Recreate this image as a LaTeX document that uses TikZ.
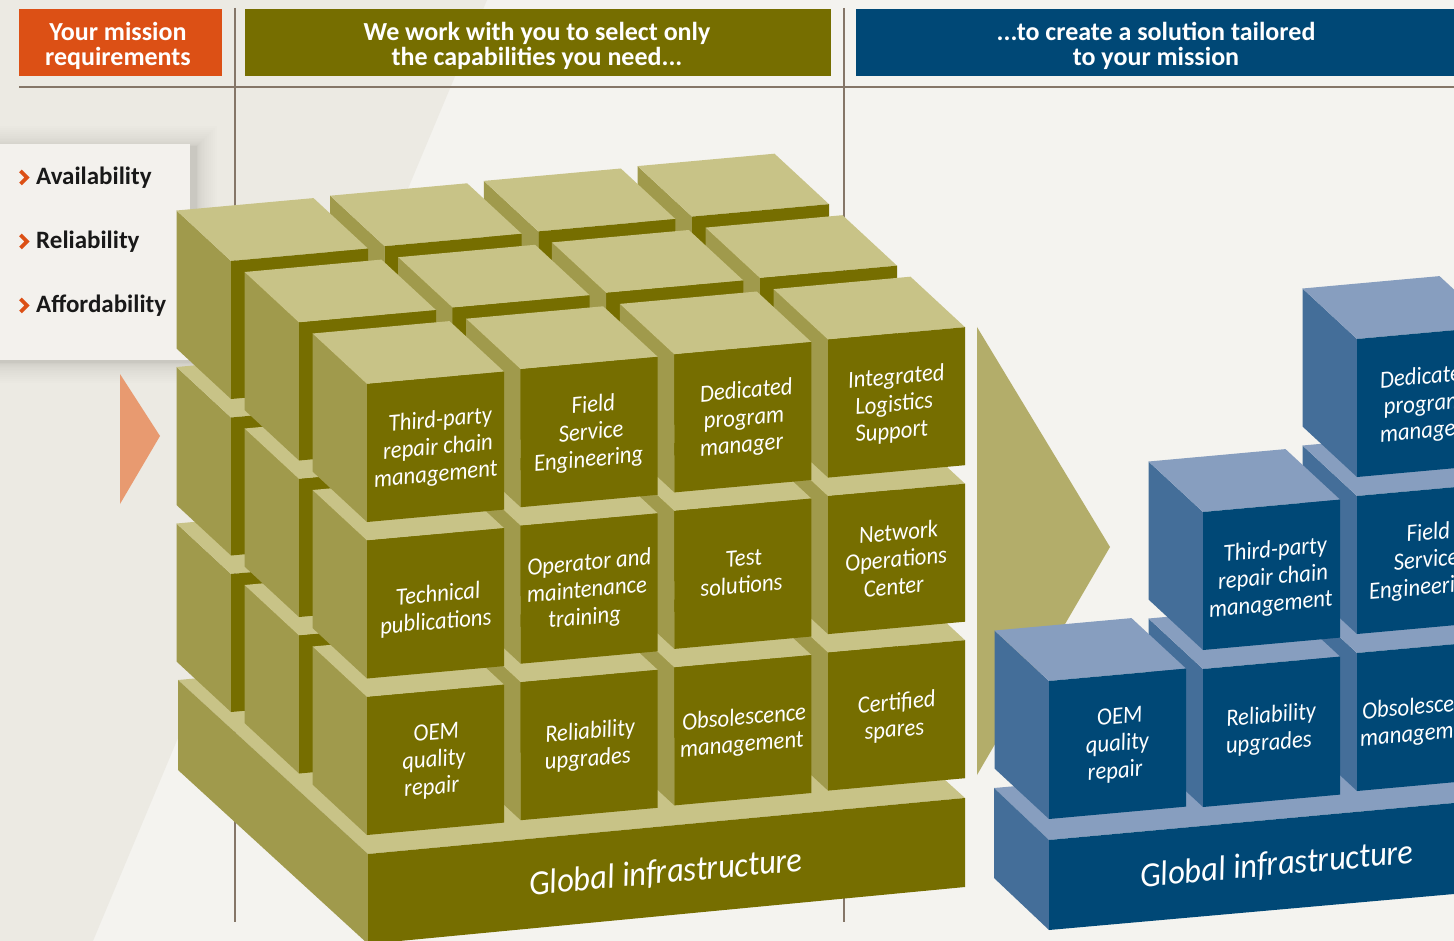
\documentclass[tikz,border=0pt]{standalone}
\usepackage{fontspec}
\setmainfont{Carlito}
\newfontfamily\cellfont[FakeStretch=0.93]{Carlito}
\usetikzlibrary{calc}
\definecolor{pagebg}{HTML}{F4F3EF}
\definecolor{darkbg}{HTML}{ECEAE3}
\definecolor{panelbg}{HTML}{F3F1ED}
\definecolor{rulec}{HTML}{857668}
\definecolor{orangec}{HTML}{DC5015}
\definecolor{olivefront}{HTML}{766E00}
\definecolor{oliveleft}{HTML}{A09A4C}
\definecolor{olivetop}{HTML}{C8C387}
\definecolor{bluefront}{HTML}{004876}
\definecolor{blueleft}{HTML}{446E99}
\definecolor{bluetop}{HTML}{879EBF}
\definecolor{arrowolive}{HTML}{B3AD6A}
\definecolor{arroworange}{HTML}{E89A70}
\tikzset{
  x=1pt,y=-1pt,
  headtext/.style={text=white,align=center,font=\fontsize{26}{25}\selectfont\bfseries,inner sep=0pt},
  celltext/.style={text=white,align=center,font=\cellfont\fontsize{24.5}{27}\selectfont\itshape,rotate=5,inner sep=0pt},
  basetext/.style={text=white,font=\cellfont\fontsize{35}{36}\selectfont\itshape,rotate=5,inner sep=0pt},
  listtext/.style={text=black!90,anchor=west,font=\fontsize{25}{26}\selectfont\bfseries,inner sep=0pt},
  chev/.style={draw=orangec,line width=3.6pt,line join=miter},
  rulel/.style={draw=rulec,line width=2.4pt},
}
\newcommand{\blk}[3]{%
  \fill[#3left] (#1,#2) -- (#1-54.5,#2-50.5) -- (#1-54.5,#2+87.5) -- (#1,#2+138) -- cycle;
  \fill[#3top] (#1,#2) -- (#1-54.5,#2-50.5) -- (#1+82.5,#2-62.9) -- (#1+137,#2-12.4) -- cycle;
  \fill[#3front] (#1,#2) -- (#1+137,#2-12.4) -- (#1+137,#2+125.6) -- (#1,#2+138) -- cycle;
}
% lines of a label step to the left going down: pad one side of the centred line
\newcommand{\toR}[1]{\hspace*{#1pt}\ignorespaces}
\newcommand{\toL}[1]{\hspace*{#1pt}}
\begin{document}
\begin{tikzpicture}
\useasboundingbox (0,0) rectangle (1454,941);
\clip (0,0) rectangle (1454,941);
\fill[pagebg] (0,0) rectangle (1454,941);
\fill[darkbg] (0,0) -- (487,0) -- (93,941) -- (0,941) -- cycle;
% rules
\coordinate (ra) at (19,87); \coordinate (rb) at (1454,87);
\coordinate (v1a) at (235,8); \coordinate (v1b) at (235,922);
\coordinate (v2a) at (844,8); \coordinate (v2b) at (844,922);
\draw[rulel] (ra) -- (rb);
\draw[rulel] (v1a) -- (v1b);
\draw[rulel] (v2a) -- (v2b);
% header
\fill[orangec] (19,9) rectangle (222,76);
\fill[olivefront] (245,9) rectangle (831,76);
\fill[bluefront] (856,9) rectangle (1454,76);
\node[headtext] (h1) at (118,45.5) {Your mission\\requirements};
\node[headtext] (h2) at (537,45.5) {We work with you to select only\\the capabilities you need...};
\node[headtext] (h3) at (1156,45.5) {...to create a solution tailored\\to your mission};
% panel with shadow
\foreach \i in {1,...,17}{
  \pgfmathsetmacro{\ee}{\i*\i/14}
  \fill[black,opacity=0.0075] (-30-\ee,146.5-\ee) rectangle (196.5+\ee,362.5+\ee);
}
\fill[panelbg] (0,144) rectangle (190,360);
\draw[chev] (20.5,171) -- (27,177.5) -- (20.5,184);
\draw[chev] (20.5,235) -- (27,241.5) -- (20.5,248);
\draw[chev] (20.5,299) -- (27,305.5) -- (20.5,312);
\node[listtext] (l1) at (36,178) {Availability};
\node[listtext] (l2) at (36,242) {Reliability};
\node[listtext] (l3) at (36,306) {Affordability};
% arrows
\fill[arroworange] (120,374) -- (160,436) -- (120,504) -- cycle;
\fill[arrowolive] (977,327) -- (1110,547) -- (977,775) -- cycle;
% olive base
\fill[olivetop] (178,680) -- (368,854) -- (965,798) -- (775,626) -- cycle;
\fill[oliveleft] (178,680) -- (368,854) -- (368,944) -- (178,770) -- cycle;
\fill[olivefront] (368,854) -- (965,798) -- (965,887) -- (368,944) -- cycle;
% olive cubes: bottom layer first, back row first, right column first
\foreach \l in {2,1,0}{
  \foreach \r in {2,1,0}{
    \foreach \c in {3,2,1,0}{
      \pgfmathsetmacro{\xx}{367+153.67*\c-68*\r}
      \pgfmathsetmacro{\yy}{384-14.8*\c-61.5*\r+156.5*\l}
      \blk{\xx}{\yy}{olive}
    }
  }
}
\node[celltext] (o1) at (438,448) {\toR{9.4}Third-party\\repair chain\\management\toL{9.4}};
\node[celltext] (o2) at (591,433) {\toR{9.4}Field\\Service\\Engineering\toL{9.4}};
\node[celltext] (o3) at (744,419) {\toR{9.4}Dedicated\\program\\manager\toL{9.4}};
\node[celltext] (o4) at (894,405) {\toR{9.4}Integrated\\Logistics\\Support\toL{9.4}};
\node[celltext] (o5) at (437,609) {\toR{4.7}Technical\\publications\toL{4.7}};
\node[celltext] (o6) at (587,591) {\toR{9.4}Operator and\\maintenance\\training\toL{9.4}};
\node[celltext] (o7) at (742.5,572) {\toR{4.7}Test\\solutions\toL{4.7}};
\node[celltext] (o8) at (896,559) {\toR{9.4}Network\\Operations\\Center\toL{9.4}};
\node[celltext] (o9) at (434,761) {\toR{9.4}OEM\\quality\\repair\toL{9.4}};
\node[celltext] (o10) at (589,746) {\toR{4.7}Reliability\\upgrades\toL{4.7}};
\node[celltext] (o11) at (743,732) {\toR{4.7}Obsolescence\\management\toL{4.7}};
\node[celltext] (o12) at (895.5,717) {\toR{4.7}Certified\\spares\toL{4.7}};
\node[basetext] (ob) at (666,873) {Global infrastructure};
% blue base
\fill[bluetop] (994,788) -- (1049,840) -- (1454,803) -- (1454,748) -- cycle;
\fill[blueleft] (994,788) -- (1049,840) -- (1049,930) -- (994,878) -- cycle;
\fill[bluefront] (1049,840) -- (1454,803) -- (1454,894) -- (1049,930) -- cycle;
% blue cubes
\blk{1357}{653}{blue}
\blk{1357}{496}{blue}
\blk{1357}{339}{blue}
\blk{1203}{669}{blue}
\blk{1203}{512}{blue}
\blk{1049}{681}{blue}
\node[celltext] (b1) at (1424,405) {\toR{9.4}Dedicated\\program\\manager\toL{9.4}};
\node[celltext] (b2) at (1426,561) {\toR{9.4}Field\\Service\\Engineering\toL{9.4}};
\node[celltext] (b3) at (1273,578) {\toR{9.4}Third-party\\repair chain\\management\toL{9.4}};
\node[celltext] (b4) at (1270,730) {\toR{4.7}Reliability\\upgrades\toL{4.7}};
\node[celltext] (b5) at (1423,721) {\toR{4.7}Obsolescence\\management\toL{4.7}};
\node[celltext] (b6) at (1117.5,745) {\toR{9.4}OEM\\quality\\repair\toL{9.4}};
\node[basetext] (bb) at (1277,865) {Global infrastructure};
\end{tikzpicture}
\end{document}
